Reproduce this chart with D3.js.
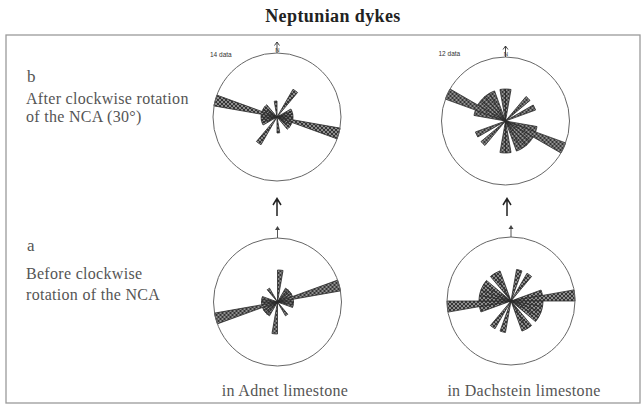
<!DOCTYPE html>
<html>
<head>
<meta charset="utf-8">
<script src="https://cdn.jsdelivr.net/npm/d3@7"></script>
<style>
  body { margin: 0; background: #fff; }
  svg { display: block; }
</style>
</head>
<body>
<svg id="chart" width="644" height="408"></svg>
<script>
// 10 degree classes of dyke strike, 0..170 (axial data, mirrored on the other side)
const binStarts = d3.range(0, 180, 10);

// counts per class
const adnetBefore     = [2, 0, 0, 1, 1, 1, 1, 4, 1, 1, 1, 0, 0, 0, 1, 0, 0, 0];
const adnetAfter      = [0, 0, 0, 2, 0, 0, 1, 1, 1, 1, 4, 1, 1, 1, 0, 0, 0, 1];
const dachsteinBefore = [0, 1, 0, 1, 0, 0, 0, 1, 2, 1, 1, 1, 1, 0, 1, 1, 0, 0];
const dachsteinAfter  = [1, 0, 0, 0, 1, 0, 1, 0, 0, 0, 1, 2, 1, 1, 1, 1, 0, 1];

const dataLabels = ["14 data", "12 data"];
const columnLabels = ["in Adnet limestone", "in Dachstein limestone"];

const svg = d3.select("#chart");
const R = 64;

// checkered fill used by the petals
const defs = svg.append("defs");
const pat = defs.append("pattern")
    .attr("id", "checker")
    .attr("width", 4).attr("height", 4)
    .attr("patternUnits", "userSpaceOnUse");
pat.append("rect").attr("width", 4).attr("height", 4).attr("fill", "#363636");
pat.append("rect").attr("x", 0).attr("y", 0).attr("width", 2).attr("height", 2).attr("fill", "#8e8e8e");
pat.append("rect").attr("x", 2).attr("y", 2).attr("width", 2).attr("height", 2).attr("fill", "#8e8e8e");

// title
svg.append("text")
    .attr("x", 333).attr("y", 22)
    .attr("text-anchor", "middle")
    .style("font-family", "'Liberation Serif', 'DejaVu Serif', serif")
    .style("font-size", "18px")
    .style("font-weight", "bold")
    .style("fill", "#222")
    .style("letter-spacing", "0.4px")
    .text("Neptunian  dykes");

// frame
svg.append("rect")
    .attr("x", 6).attr("y", 35)
    .attr("width", 634).attr("height", 368)
    .attr("fill", "none")
    .attr("stroke", "#9a9a9a")
    .attr("stroke-width", 1.3);

// left side captions
const serif = "'Liberation Serif', 'DejaVu Serif', serif";
const caption = (x, y, txt, size) => svg.append("text")
    .attr("x", x).attr("y", y)
    .style("font-family", serif)
    .style("font-size", size + "px")
    .style("fill", "#555")
    .style("letter-spacing", "0.3px")
    .text(txt);

caption(27, 82, "b", 17);
caption(26, 104, "After clockwise rotation", 16);
caption(26, 122, "of the NCA  (30\u00b0)", 16);
caption(27, 251, "a", 17);
caption(26, 279, "Before clockwise", 16);
caption(26, 300, "rotation of the NCA", 16);

const rose = (cx, cy, counts, topRow, label) => {
    const g = svg.append("g").attr("transform", `translate(${cx},${cy})`);
    const r = d3.scaleLinear().domain([0, d3.max(counts)]).range([0, R]);
    const arc = d3.arc().innerRadius(0);

    const petals = [];
    binStarts.forEach((b, i) => {
        if (!counts[i]) return;
        [b, b + 180].forEach(a => petals.push({ a, n: counts[i] }));
    });

    g.selectAll(".petal")
        .data(petals)
        .enter().append("path")
        .attr("class", "petal")
        .attr("d", d => arc({
            outerRadius: r(d.n),
            startAngle: d.a * Math.PI / 180,
            endAngle: (d.a + 10) * Math.PI / 180
        }))
        .attr("fill", "url(#checker)")
        .attr("stroke", "#2a2a2a")
        .attr("stroke-width", 0.8);

    g.append("circle")
        .attr("r", R)
        .attr("fill", "none")
        .attr("stroke", "#666")
        .attr("stroke-width", 1);

    // north mark
    if (topRow) {
        g.append("path")
            .attr("d", `M0,${-R} L0,${-R - 11} M-2.5,${-R - 7.5} L0,${-R - 11} L2.5,${-R - 7.5}`)
            .attr("fill", "none").attr("stroke", "#333").attr("stroke-width", 0.9);
        g.append("text")
            .attr("x", 0.5).attr("y", -R - 1.5)
            .attr("text-anchor", "middle")
            .style("font-family", "'Liberation Sans', Arial, sans-serif")
            .style("font-size", "6px")
            .style("fill", "#333")
            .text("N");
        g.append("text")
            .attr("x", -67).attr("y", label.dy)
            .style("font-family", "'Liberation Sans', Arial, sans-serif")
            .style("font-size", "6.5px")
            .style("fill", "#333")
            .text(label.text);
    } else {
        g.append("line")
            .attr("x1", 0).attr("x2", 0)
            .attr("y1", -R).attr("y2", -R - 9)
            .attr("stroke", "#444").attr("stroke-width", 0.9);
        g.append("path")
            .attr("d", `M-2.5,${-R - 8} L0,${-R - 12} L2.5,${-R - 8} Z`)
            .attr("fill", "#444");
    }
};

rose(277, 117, adnetAfter, true, { text: dataLabels[0], dy: -R + 4 });
rose(505.5, 121, dachsteinAfter, true, { text: dataLabels[1], dy: -R - 1 });
rose(277.5, 302, adnetBefore, false);
rose(511, 301, dachsteinBefore, false);

// arrows from a to b
[277, 507].forEach(x => {
    svg.append("path")
        .attr("d", `M${x},216 L${x},199 M${x - 4},205 L${x},198.5 L${x + 4},205`)
        .attr("fill", "none")
        .attr("stroke", "#222")
        .attr("stroke-width", 1.5);
});

// bottom labels
svg.selectAll(".collab")
    .data(columnLabels)
    .enter().append("text")
    .attr("class", "collab")
    .attr("x", (d, i) => [285, 524][i])
    .attr("y", 396)
    .attr("text-anchor", "middle")
    .style("font-family", serif)
    .style("font-size", "16px")
    .style("fill", "#555")
    .style("letter-spacing", "0.3px")
    .text(d => d);
</script>
</body>
</html>
